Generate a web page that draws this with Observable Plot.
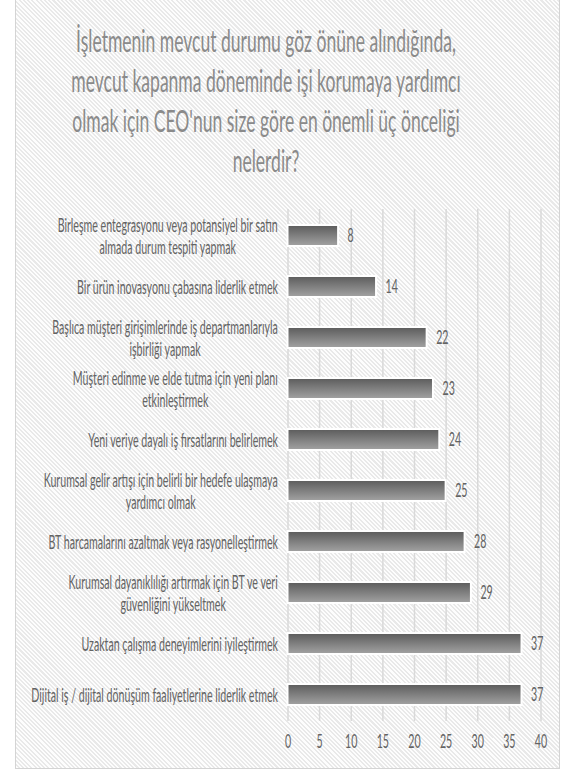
<!DOCTYPE html>
<html><head><meta charset="utf-8">
<script src="https://cdn.jsdelivr.net/npm/d3@7"></script>
<script src="https://cdn.jsdelivr.net/npm/@observablehq/plot@0.6"></script>
<style>
html,body{margin:0;padding:0;background:#fff;width:564px;height:771px;overflow:hidden;position:relative;}
#frame{position:absolute;left:15px;top:-1px;width:545px;height:770px;border:1px solid #d4d4d4;box-sizing:border-box;
background:repeating-linear-gradient(45deg,#fdfdfd 0px,#fdfdfd 1.5px,#e9e9e9 1.5px,#e9e9e9 3px);}
#title{position:absolute;left:-234px;width:1000px;top:20px;text-align:center;white-space:nowrap;font-family:Lato,"Open Sans",sans-serif;font-weight:400;font-size:31px;line-height:40px;color:#8a8a8a;transform:scaleX(0.565);transform-origin:center;}
#chart{position:absolute;left:15px;top:195px;}
</style></head><body>
<div id="frame"></div>
<div id="title">İşletmenin mevcut durumu göz önüne alındığında,<br>mevcut kapanma döneminde işi korumaya yardımcı<br>olmak için CEO'nun size göre en önemli üç önceliği<br>nelerdir?</div>
<div id="chart"></div>
<script>
const categories = [
  "Birleşme entegrasyonu veya potansiyel bir satın\nalmada durum tespiti yapmak",
  "Bir ürün inovasyonu çabasına liderlik etmek",
  "Başlıca müşteri girişimlerinde iş departmanlarıyla\nişbirliği yapmak",
  "Müşteri edinme ve elde tutma için yeni planı\netkinleştirmek",
  "Yeni veriye dayalı iş fırsatlarını belirlemek",
  "Kurumsal gelir artışı için belirli bir hedefe ulaşmaya\nyardımcı olmak",
  "BT harcamalarını azaltmak veya rasyonelleştirmek",
  "Kurumsal dayanıklılığı artırmak için BT ve veri\ngüvenliğini yükseltmek",
  "Uzaktan çalışma deneyimlerini iyileştirmek",
  "Dijital iş / dijital dönüşüm faaliyetlerine liderlik etmek"
];
const values = [8, 14, 22, 23, 24, 25, 28, 29, 37, 37];
const xTicks = [0, 5, 10, 15, 20, 25, 30, 35, 40];

const data = categories.map((c, i) => ({label: c, value: values[i]}));
const sx = 0.56;

const plot = Plot.plot({
  width: 544, height: 570,
  marginLeft: 272.5, marginRight: 18.5, marginTop: 14, marginBottom: 44,
  style: {background: "transparent", fontFamily: "Lato, 'Open Sans', sans-serif", fontSize: "17px", color: "#636363"},
  x: {domain: [0, 40], label: null},
  y: {domain: categories, paddingInner: 0.58, paddingOuter: 0.29, label: null},
  marks: [
    Plot.gridX(xTicks, {stroke: "#d9d9d9", strokeOpacity: 1, strokeWidth: 1.5}),
    Plot.axisX(xTicks, {tickSize: 0, tickPadding: 13, fontSize: 19, label: null}),
    Plot.axisY({tickSize: 0, tickPadding: 10, fontSize: 19, lineHeight: 1.17, label: null}),
    Plot.barX(data, {x: "value", y: "label", fill: "url(#barGrad)", stroke: "#fff", strokeWidth: 2}),
    Plot.text(data, {x: "value", y: "label", text: "value", textAnchor: "start", dx: 9, fontSize: 19, fill: "#636363"})
  ]
});
document.getElementById("chart").append(plot);
const svg = d3.select(plot);
const defs = svg.insert("defs", ":first-child");
const grad = defs.append("linearGradient").attr("id", "barGrad").attr("x1", 0).attr("y1", 0).attr("x2", 0).attr("y2", 1);
grad.append("stop").attr("offset", "0%").attr("stop-color", "#5b5b5b");
grad.append("stop").attr("offset", "100%").attr("stop-color", "#a3a3a3");

svg.selectAll('g[aria-label="y-axis tick label"] text').each(function () {
  const spans = this.querySelectorAll("tspan");
  if (spans.length > 1) {
    const w = this.getBBox().width;
    this.setAttribute("text-anchor", "middle");
    spans.forEach(s => s.setAttribute("x", -w / 2));
  }
});
svg.selectAll("text").each(function () {
  const tr = this.getAttribute("transform") || "";
  this.setAttribute("transform", tr + ` scale(${sx},1)`);
});
</script>
</body></html>
